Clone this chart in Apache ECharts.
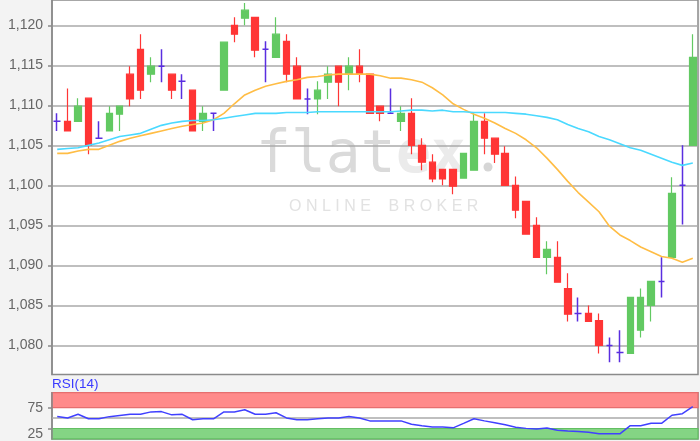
<!DOCTYPE html>
<html><head><meta charset="utf-8">
<script src="https://cdn.jsdelivr.net/npm/echarts@6/dist/echarts.min.js"></script>
<style>html,body{margin:0;padding:0;background:#f3f3f3;overflow:hidden}#c{width:700px;height:441px}</style>
</head><body><div id="c"></div>
<script>
// OHLC
const opens  = [1.1080,1.1080,1.1080,1.1109,1.1059,1.1068,1.1089,1.1139,1.1170,1.1139,1.1149,1.1139,1.1130,1.1119,1.1080,1.1090,1.1119,1.1200,1.1209,1.1210,1.1170,1.1160,1.1180,1.1149,1.1108,1.1108,1.1129,1.1149,1.1139,1.1149,1.1139,1.1099,1.1090,1.1080,1.1090,1.1050,1.1029,1.1020,1.1020,1.1009,1.1019,1.1080,1.1059,1.1040,1.1000,1.0980,1.0950,1.0910,1.0910,1.0871,1.0840,1.0840,1.0831,1.0800,1.0791,1.0790,1.0819,1.0850,1.0880,1.0910,1.1000,1.1050];
const closes = [1.1080,1.1068,1.1099,1.1050,1.1059,1.1090,1.1099,1.1108,1.1119,1.1149,1.1149,1.1119,1.1130,1.1068,1.1090,1.1090,1.1179,1.1189,1.1219,1.1169,1.1170,1.1189,1.1139,1.1108,1.1108,1.1119,1.1139,1.1129,1.1149,1.1139,1.1090,1.1090,1.1090,1.1090,1.1050,1.1029,1.1008,1.1008,1.0999,1.1040,1.1080,1.1059,1.1039,1.1000,1.0969,1.0939,1.0910,1.0920,1.0879,1.0839,1.0840,1.0830,1.0800,1.0800,1.0791,1.0860,1.0860,1.0880,1.0880,1.0990,1.1000,1.1160];
const lows   = [1.1068,1.1068,1.1080,1.1039,1.1058,1.1068,1.1068,1.1099,1.1108,1.1129,1.1129,1.1108,1.1108,1.1068,1.1068,1.1068,1.1119,1.1179,1.1200,1.1160,1.1129,1.1160,1.1129,1.1108,1.1089,1.1089,1.1108,1.1099,1.1119,1.1129,1.1090,1.1080,1.1090,1.1068,1.1039,1.1019,1.1004,1.1000,1.0989,1.1009,1.1019,1.1039,1.1028,1.1000,1.0959,1.0939,1.0910,1.0889,1.0879,1.0830,1.0830,1.0830,1.0790,1.0779,1.0779,1.0790,1.0810,1.0830,1.0860,1.0910,1.0951,1.1050];
const highs  = [1.1090,1.1121,1.1109,1.1109,1.1080,1.1099,1.1099,1.1149,1.1189,1.1160,1.1170,1.1139,1.1139,1.1119,1.1099,1.1090,1.1179,1.1210,1.1228,1.1210,1.1180,1.1210,1.1189,1.1160,1.1121,1.1130,1.1149,1.1149,1.1160,1.1170,1.1139,1.1099,1.1121,1.1099,1.1109,1.1059,1.1039,1.1020,1.1020,1.1040,1.1090,1.1090,1.1059,1.1049,1.1011,1.0980,1.0960,1.0930,1.0930,1.0890,1.0860,1.0850,1.0840,1.0810,1.0819,1.0860,1.0871,1.0880,1.0910,1.1010,1.1050,1.1189];
// moving averages
const maFast = [1.1040,1.1040,1.1043,1.1045,1.1045,1.1050,1.1055,1.1059,1.1062,1.1065,1.1068,1.1071,1.1074,1.1076,1.1078,1.1082,1.1090,1.1102,1.1113,1.1119,1.1124,1.1127,1.1130,1.1132,1.1135,1.1136,1.1138,1.1139,1.1139,1.1139,1.1139,1.1137,1.1134,1.1134,1.1132,1.1129,1.1122,1.1113,1.1102,1.1095,1.1089,1.1084,1.1078,1.1071,1.1065,1.1057,1.1047,1.1034,1.1020,1.1005,1.0991,1.0979,1.0967,1.0949,1.0938,1.0931,1.0923,1.0917,1.0911,1.0909,1.0904,1.0909];
const maSlow = [1.1045,1.1046,1.1047,1.1050,1.1053,1.1057,1.1061,1.1063,1.1065,1.1070,1.1075,1.1078,1.1080,1.1081,1.1081,1.1082,1.1084,1.1086,1.1088,1.1090,1.1090,1.1090,1.1091,1.1091,1.1091,1.1092,1.1092,1.1092,1.1092,1.1092,1.1092,1.1092,1.1092,1.1093,1.1094,1.1094,1.1093,1.1094,1.1092,1.1092,1.1091,1.1091,1.1091,1.1091,1.1090,1.1089,1.1087,1.1085,1.1082,1.1076,1.1071,1.1067,1.1061,1.1057,1.1052,1.1047,1.1044,1.1039,1.1034,1.1029,1.1025,1.1028];
// RSI(14)
const rsi = [54.1,50.4,59.1,48.3,48.3,53.5,56.3,59.1,59.1,64.9,65.6,57.8,59.1,46.1,48.3,48.3,64.9,64.9,69.9,59.1,59.1,62.8,50.4,46.1,46.1,48.3,50.4,50.4,53.8,50.4,43.3,43.3,43.3,43.3,35.3,31.8,28.8,28.8,26.6,37.4,48.3,43.3,39.0,34.0,28.1,25.3,23.8,26.0,21.0,18.8,18.0,15.8,12.3,12.3,12.3,31.8,31.8,37.4,37.4,56.9,60.6,77.3];
const priceTicks = [1.080,1.085,1.090,1.095,1.100,1.105,1.110,1.115,1.120];
const rsiTicks = [25,75];
const rsiBands = {over:75, mid:50, under:25};

const categories = opens.map((_, i) => 'D' + (i + 1));
const UP = '#62c962', DOWN = '#ff3535', DOJI = '#5a2ee0';
const candleData = opens.map((o, i) => {
  const v = [o, closes[i], lows[i], highs[i]];
  return o === closes[i] ? {value: v, itemStyle: {color: DOJI, color0: DOJI, borderColor: DOJI, borderColor0: DOJI, borderWidth: 1.5}} : v;
});

const chart = echarts.init(document.getElementById('c'), null, {renderer: 'canvas'});
const FONT = 'Liberation Sans, Arial, sans-serif';
chart.setOption({
  animation: false,
  backgroundColor: '#f3f3f3',
  title: {text: 'RSI(14)', left: 52, top: 377, padding: 0,
    textStyle: {color: '#3a3aff', fontSize: 13.5, fontWeight: 'normal', fontFamily: FONT}},
  grid: [
    {left: 52, right: 2, top: -5, bottom: 66.5, show: true, backgroundColor: '#ffffff', borderColor: '#8a8a8a', borderWidth: 1.5},
    {left: 52, right: 2, top: 392.7, bottom: -3, show: true, backgroundColor: '#ffffff', borderColor: '#8a8a8a', borderWidth: 1.5}
  ],
  graphic: [
    {type: 'text', z: 0, left: 256, top: 128, style: {text: 'flat', fill: '#dadada', font: '58px "DejaVu Sans Mono"'}},
    {type: 'text', z: 0, left: 396, top: 128, style: {text: 'ex', fill: '#ebebeb', font: 'bold 58px "DejaVu Sans Mono"'}},
    {type: 'circle', z: 0, shape: {cx: 488, cy: 167, r: 4.5}, style: {fill: '#d6d6d6'}},
    {type: 'text', z: 0, left: 289, top: 199, style: {text: 'O N L I N E    B R O K E R', fill: '#e2e2e2', font: '16px "Liberation Sans"'}}
  ],
  xAxis: [
    {type: 'category', gridIndex: 0, data: categories, boundaryGap: true, axisLine: {show: false}, axisTick: {show: false}, axisLabel: {show: false}, splitLine: {show: false}},
    {type: 'category', gridIndex: 1, data: categories, boundaryGap: true, axisLine: {show: false}, axisTick: {show: false}, axisLabel: {show: false}, splitLine: {show: false}}
  ],
  yAxis: [
    {type: 'value', gridIndex: 0, z: 1, min: 1.07636, max: 1.12317, scale: true,
      axisLine: {show: true, lineStyle: {color: '#8a8a8a', width: 1.5}},
      axisTick: {show: true, length: 4, customValues: priceTicks, lineStyle: {color: '#8a8a8a', width: 1.5}},
      axisLabel: {customValues: priceTicks, margin: 9, color: '#666', fontSize: 14, fontFamily: FONT,
        formatter: v => v.toFixed(3).replace('.', ',')},
      splitLine: {show: true, lineStyle: {color: '#aaaaaa', width: 1.5}}},
    {type: 'value', gridIndex: 1, z: 1, min: 0, max: 111,
      axisLine: {show: true, lineStyle: {color: '#8a8a8a', width: 1.5}},
      axisTick: {show: true, length: 4, customValues: rsiTicks, lineStyle: {color: '#8a8a8a', width: 1.5}},
      axisLabel: {customValues: rsiTicks, margin: 9, color: '#666', fontSize: 14, fontFamily: FONT, lineHeight: 11,
        formatter: v => v === rsiBands.under ? '\n' + v : String(v)},
      splitLine: {show: false}}
  ],
  series: [
    {type: 'candlestick', xAxisIndex: 0, yAxisIndex: 0, data: candleData, barWidth: 7, z: 2,
      itemStyle: {color: UP, color0: DOWN, borderColor: UP, borderColor0: DOWN, borderColorDoji: DOJI, borderWidth: 1.2}},
    {type: 'line', xAxisIndex: 0, yAxisIndex: 0, data: maFast, symbol: 'none', z: 3,
      lineStyle: {color: '#ffbd45', width: 1.6}},
    {type: 'line', xAxisIndex: 0, yAxisIndex: 0, data: maSlow, symbol: 'none', z: 3,
      lineStyle: {color: '#4ad9ff', width: 1.6}},
    {type: 'line', xAxisIndex: 1, yAxisIndex: 1, data: rsi, symbol: 'none', z: 3,
      lineStyle: {color: '#4040ff', width: 1.5},
      markArea: {silent: true, z: 1, data: [
        [{yAxis: rsiBands.over, itemStyle: {color: '#ff8a8a', borderColor: '#e66e6e', borderWidth: 1.2}}, {yAxis: 111}],
        [{yAxis: 0, itemStyle: {color: '#84d484', borderColor: '#63bf63', borderWidth: 1.2}}, {yAxis: rsiBands.under}]
      ]},
      markLine: {silent: true, symbol: 'none', label: {show: false}, z: 2,
        lineStyle: {color: '#aaaaaa', width: 1.5, type: 'solid'}, data: [{yAxis: rsiBands.mid}]}}
  ]
});
</script></body></html>
